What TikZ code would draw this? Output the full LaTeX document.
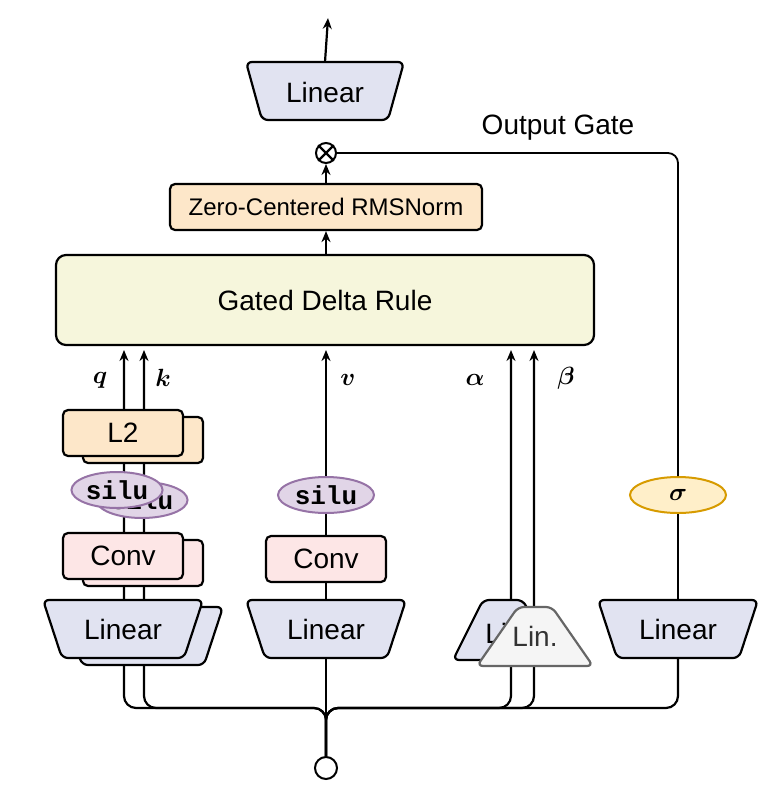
\documentclass[tikz,border=0pt]{standalone}
\usepackage{fontspec}
\setmainfont{Liberation Sans}
\setmonofont{Liberation Mono}
\usetikzlibrary{arrows.meta}
\definecolor{lav}{HTML}{E1E3F1}
\definecolor{org}{HTML}{FDE7C9}
\definecolor{pnk}{HTML}{FDE6E6}
\definecolor{ylw}{HTML}{F6F6DC}
\definecolor{pur}{HTML}{E1D5E7}
\definecolor{purb}{HTML}{9673A6}
\definecolor{sig}{HTML}{FFEFC9}
\definecolor{sigb}{HTML}{D79B00}
\newcommand\trapz[6]{% cx, ytop, half top, half bottom, ybot, style
  \draw[#6,rounded corners=6pt] (#1-#3,#2) -- (#1+#3,#2) -- (#1+#4,#5) -- (#1-#4,#5) -- cycle;}
\tikzset{
  ln/.style={line width=2.2pt},
  arr/.style={ln,-{Stealth[length=11pt,width=9pt]}},
  box/.style={draw,line width=2.2pt,rounded corners=5pt},
  sl/.style={ellipse,draw=purb,fill=pur,line width=2pt,inner sep=1pt,font=\ttfamily\bfseries\fontsize{26}{26}\selectfont},
  lbl/.style={font=\fontsize{28}{28}\selectfont},
  mth/.style={font=\boldmath\fontsize{34}{34}\selectfont},
}
\usetikzlibrary{shapes.geometric}
\begin{document}
\begin{tikzpicture}[x=1pt,y=-1pt]
\useasboundingbox (0,0) rectangle (784,801);
% lines
\node[circle,draw,line width=2pt,minimum size=22pt,inner sep=0] (in) at (326,768) {};
\foreach \xx in {124,144,511,534}{
  \draw[arr,rounded corners=12pt] (in.north) -- (326,708) -- (\xx,708) -- (\xx,350);}
\draw[ln,rounded corners=12pt] (in.north) -- (326,708) -- (678,708) -- (678,658);
\draw[arr] (in.north) -- (326,350);
% gated delta rule
\node[box,fill=ylw,minimum width=538pt,minimum height=90pt,lbl,rounded corners=10pt] (gdr) at (325,300) {Gated Delta Rule};
\node[box,fill=org,minimum width=312pt,minimum height=46pt,font=\fontsize{24}{24}\selectfont] (rms) at (326,207) {Zero-Centered RMSNorm};
\draw[arr] (gdr.north -| 326,0) -- (rms.south -| 326,0);
\node[circle,draw,line width=2pt,minimum size=20pt,inner sep=0] (ot) at (326,153) {};
\draw[ln] (ot.north west) -- (ot.south east) (ot.north east) -- (ot.south west);
\draw[arr] (rms.north -| 326,0) -- (ot.south);
% output gate path
\node[ellipse,draw=sigb,fill=sig,line width=2pt,minimum width=96pt,minimum height=36pt,inner sep=0pt,font=\boldmath\fontsize{28}{28}\selectfont] (sg) at (678,495) {$\sigma$};
\draw[line width=1.8pt,rounded corners=10pt] (ot.east) -- (678,153) -- (sg.north);
\draw[line width=1.3pt] (sg.south) -- (678,600);
\node[lbl] (og) at (558,128) {Output Gate};
% top linear
\trapz{325}{62}{79}{63}{120}{ln,fill=lav}
\node[lbl] (tl) at (325,92) {Linear};
\draw[arr] (325,62) -- (328,18);
% left stack back
\node[box,fill=org,minimum width=120pt,minimum height=46pt] (l2b) at (143,440) {};
\node[box,fill=org,minimum width=120pt,minimum height=46pt,lbl] (l2) at (123,433) {L2};
\node[sl,minimum width=88pt,minimum height=36pt] (sib) at (142,500) {silu};
\node[sl,minimum width=88pt,minimum height=36pt] (si) at (117,490) {silu};
\node[box,fill=pnk,minimum width=120pt,minimum height=46pt] (cvb) at (143,563) {};
\node[box,fill=pnk,minimum width=120pt,minimum height=46pt,lbl] (cv) at (123,556) {Conv};
\trapz{143}{607}{80}{61}{665}{ln,fill=lav}
\trapz{123}{600}{80}{61}{658}{ln,fill=lav}
\node[lbl] (ll) at (123,629) {Linear};
\node[mth] (q) at (100,380) {$q$};
\node[mth] (k) at (163,378) {$k$};
% middle stack
\node[sl,minimum width=96pt,minimum height=36pt] (sim) at (326,495) {silu};
\node[box,fill=pnk,minimum width=120pt,minimum height=46pt,lbl] (cvm) at (326,559) {Conv};
\trapz{326}{600}{80}{61}{658}{ln,fill=lav}
\node[lbl] (lm) at (326,629) {Linear};
\node[mth] (v) at (348,380) {$v$};
% alpha beta
\trapz{503}{600}{20}{50}{660}{ln,fill=lav}
\node[lbl] (lab) at (508,633) {Lin.};
\trapz{535}{607}{17}{58}{666}{line width=2.2pt,draw=black!60,fill=black!4}
\node[lbl,text=black!80] (la) at (535,636) {Lin.};
\node[mth] (al) at (475,380) {$\alpha$};
\node[mth] (be) at (566,378) {$\beta$};
% right linear
\trapz{678}{600}{80}{61}{658}{ln,fill=lav}
\node[lbl] (lr) at (678,629) {Linear};
\end{tikzpicture}
\end{document}
